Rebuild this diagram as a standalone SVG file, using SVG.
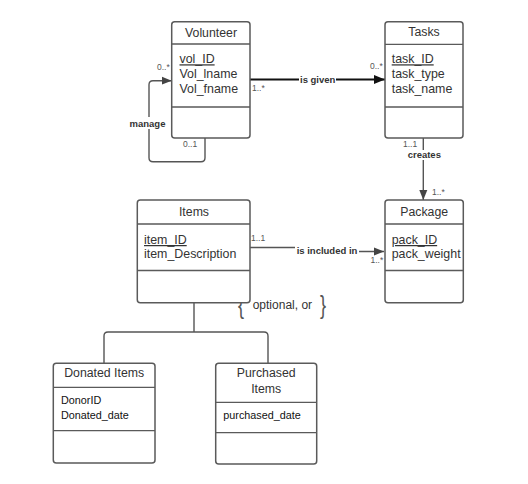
<svg xmlns="http://www.w3.org/2000/svg" width="528" height="484" viewBox="0 0 528 484">
<defs>
<style>
.box{fill:#fff;stroke:#5a5a5a;stroke-width:1.5}
.div{stroke:#5a5a5a;stroke-width:1.3;fill:none}
.t{font-family:"Liberation Sans",Arial,sans-serif;fill:#333}
.title{font-size:12.3px;text-anchor:middle}
.attr{font-size:12.4px}
.attr2{font-size:10.8px;fill:#111}
.u{text-decoration:underline}
.lbl{font-family:"Liberation Sans",Arial,sans-serif;font-size:9.5px;font-weight:bold;fill:#333}
.mult{font-family:"Liberation Sans",Arial,sans-serif;font-size:8.5px;fill:#555}
.conn{fill:none;stroke:#555;stroke-width:1.4}
.brace{font-family:"Liberation Sans",Arial,sans-serif;font-size:26px;fill:#555}
</style>
<marker id="arr" viewBox="0 0 10 10" refX="10" refY="5" markerWidth="10" markerHeight="10" markerUnits="userSpaceOnUse" orient="auto">
<path d="M0,1 L10,5 L0,9 Z" fill="#444"/>
</marker>
<marker id="arrk" viewBox="0 0 10 10" refX="10" refY="5" markerWidth="11" markerHeight="11" markerUnits="userSpaceOnUse" orient="auto">
<path d="M0,1 L10,5 L0,9 Z" fill="#111"/>
</marker>
</defs>
<rect width="528" height="484" fill="#fff"/>

<g id="connectors">
<path class="conn" d="M205,138 V157.7 Q205,161.7 201,161.7 H153 Q149,161.7 149,157.7 V84.7 Q149,80.7 153,80.7 H171.7" marker-end="url(#arr)"/>
<path class="conn" style="stroke:#111;stroke-width:2" d="M250,79.5 H385" marker-end="url(#arrk)"/>
<path class="conn" d="M423.3,138 V200" marker-end="url(#arr)"/>
<path class="conn" d="M250,247.5 H326 V251.5 H384" marker-end="url(#arr)"/>
<path class="conn" d="M194,302.7 V332 M104,363 V336 Q104,332 108,332 H264 Q268,332 268,336 V363"/>
<rect x="128" y="117" width="40" height="12" fill="#fff"/>
<text class="lbl" x="147.5" y="126.5" text-anchor="middle">manage</text>
<rect x="299" y="74" width="37" height="11" fill="#fff"/>
<text class="lbl" x="317.7" y="83" text-anchor="middle">is given</text>
<rect x="405" y="150" width="38" height="10" fill="#fff"/>
<text class="lbl" x="424.3" y="158" text-anchor="middle">creates</text>
<rect x="295" y="244" width="64" height="12" fill="#fff"/>
<text class="lbl" x="327" y="254" text-anchor="middle">is included in</text>
<text class="mult" x="157" y="70">0..*</text>
<text class="mult" x="183" y="147">0..1</text>
<text class="mult" x="252" y="91">1..*</text>
<text class="mult" x="370" y="69">0..*</text>
<text class="mult" x="403" y="147">1..1</text>
<text class="mult" x="432" y="195">1..*</text>
<text class="mult" x="251" y="241">1..1</text>
<text class="mult" x="370.5" y="263">1..*</text>
<text class="brace" transform="translate(238,314) scale(0.7,1)">{</text>
<text class="t" x="252.7" y="309" font-size="12px">optional, or</text>
<text class="brace" transform="translate(320,314) scale(0.7,1)">}</text>
</g>

<g id="volunteer">
<rect class="box" x="171.7" y="21.7" width="78.3" height="116.3" rx="3"/>
<path class="div" d="M171.7,44 H250 M171.7,107 H250"/>
<text class="t title" x="211" y="36.7">Volunteer</text>
<text class="t attr u" x="179.5" y="63.3">vol_ID</text>
<text class="t attr" x="179.5" y="78.3">Vol_lname</text>
<text class="t attr" x="179.5" y="93.3">Vol_fname</text>
</g>

<g id="tasks">
<rect class="box" x="385" y="21.7" width="78" height="116.3" rx="3"/>
<path class="div" d="M385,44.3 H463 M385,107 H463"/>
<text class="t title" x="424" y="36.3">Tasks</text>
<text class="t attr u" x="391.7" y="63.3">task_ID</text>
<text class="t attr" x="391.7" y="78.3">task_type</text>
<text class="t attr" x="391.7" y="93.3">task_name</text>
</g>

<g id="items">
<rect class="box" x="137.3" y="200" width="112.7" height="102.7" rx="3"/>
<path class="div" d="M137.3,224 H250 M137.3,270.5 H250"/>
<text class="t title" x="194" y="215.5">Items</text>
<text class="t attr u" x="144" y="244">item_ID</text>
<text class="t attr" x="144" y="258.3">item_Description</text>
</g>

<g id="package">
<rect class="box" x="385" y="200" width="78.3" height="102.7" rx="3"/>
<path class="div" d="M385,224 H463.3 M385,270.5 H463.3"/>
<text class="t title" x="424.2" y="216">Package</text>
<text class="t attr u" x="391.7" y="244">pack_ID</text>
<text class="t attr" x="391.7" y="258.3">pack_weight</text>
</g>

<g id="donated-items">
<rect class="box" x="53.3" y="363.3" width="101.7" height="99.7" rx="3"/>
<path class="div" d="M53.3,387.3 H155 M53.3,430.7 H155"/>
<text class="t title" x="104.2" y="377.3">Donated Items</text>
<text class="t attr2" x="61" y="404">DonorID</text>
<text class="t attr2" x="61" y="418.7">Donated_date</text>
</g>

<g id="purchased-items">
<rect class="box" x="215.7" y="363.3" width="101" height="100.7" rx="3"/>
<path class="div" d="M215.7,402.3 H316.7 M215.7,432.7 H316.7"/>
<text class="t title" x="266.2" y="376.7">Purchased</text>
<text class="t title" x="266.2" y="392.7">Items</text>
<text class="t attr2" x="223.3" y="419.3">purchased_date</text>
</g>
</svg>
